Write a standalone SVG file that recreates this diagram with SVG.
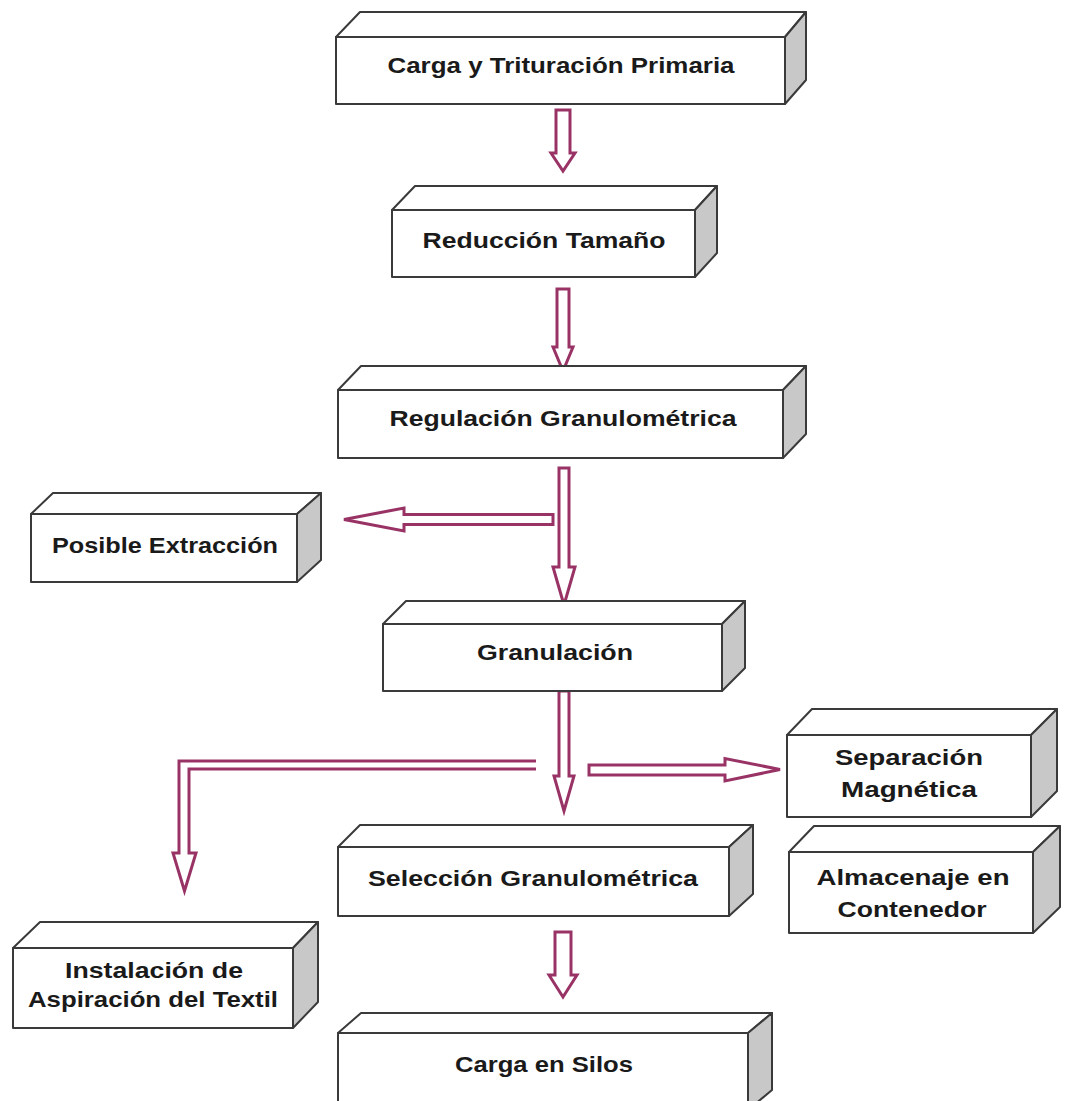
<svg xmlns="http://www.w3.org/2000/svg" width="1065" height="1101" viewBox="0 0 1065 1101">
<style>
.f{fill:#fff;stroke:#3a3a3a;stroke-width:2;stroke-linejoin:round}
.s{fill:#c8c8c8;stroke:#3a3a3a;stroke-width:2;stroke-linejoin:round}
.t{font-family:"Liberation Sans",Arial,sans-serif;font-weight:bold;font-size:22px;fill:#1a1a1a;text-anchor:middle}
.a{fill:#fff;stroke:#993366;stroke-width:3;stroke-linejoin:miter}
.l{fill:none;stroke:#993366;stroke-width:3}
</style>
<rect width="1065" height="1101" fill="#fff"/>
<g id="connectors">
<path class="a" d="M556,110 H570 V153 H575 L563,171 L551,153 H556 Z"/>
<path class="a" d="M557,289 H569 V347 H573 L563,371 L553,347 H557 Z"/>
<path class="a" d="M553,514.5 V524.5 H404 V531 L344,519.5 L404,508 V514.5 Z"/>
<path class="a" d="M559,468 H569 V567 H575 L564,605 L553,567 H559 Z"/>
<path class="a" d="M559,691 H569 V776 H574 L564,811 L554,776 H559 Z"/>
<path class="l" d="M536,761 H179 V853 H173 L184.5,891 L196,853 H189 V769 H536"/>
<path class="a" d="M589,765 H725 V758.5 L780,769.5 L725,781 V775 H589 Z"/>
<path class="a" d="M555,932 H571 V975 H577 L563,997 L549,975 H555 Z"/>
</g>
<g id="n1">
<polygon class="f" points="336,37 360,12 806,12 785,37"/>
<polygon class="s" points="785,37 806,12 806,80 785,104"/>
<rect class="f" x="336" y="37" width="449" height="67"/>
<text class="t" x="561" y="73" textLength="347" lengthAdjust="spacingAndGlyphs">Carga y Trituración Primaria</text>
</g>
<g id="n2">
<polygon class="f" points="392,210 415,186 717,186 695,210"/>
<polygon class="s" points="695,210 717,186 717,253 695,277"/>
<rect class="f" x="392" y="210" width="303" height="67"/>
<text class="t" x="544" y="248" textLength="243" lengthAdjust="spacingAndGlyphs">Reducción Tamaño</text>
</g>
<g id="n3">
<polygon class="f" points="338,390 361,366 806,366 783,390"/>
<polygon class="s" points="783,390 806,366 806,434 783,458"/>
<rect class="f" x="338" y="390" width="445" height="68"/>
<text class="t" x="563" y="426" textLength="347" lengthAdjust="spacingAndGlyphs">Regulación Granulométrica</text>
</g>
<g id="n4">
<polygon class="f" points="31,514 53,493 321,493 297,514"/>
<polygon class="s" points="297,514 321,493 321,560 297,582"/>
<rect class="f" x="31" y="514" width="266" height="68"/>
<text class="t" x="165" y="553" textLength="226" lengthAdjust="spacingAndGlyphs">Posible Extracción</text>
</g>
<g id="n5">
<polygon class="f" points="383,624 406,601 745,601 722,624"/>
<polygon class="s" points="722,624 745,601 745,668 722,691"/>
<rect class="f" x="383" y="624" width="339" height="67"/>
<text class="t" x="555" y="660" textLength="156" lengthAdjust="spacingAndGlyphs">Granulación</text>
</g>
<g id="n6">
<polygon class="f" points="787,735 812,709 1057,709 1031,735"/>
<polygon class="s" points="1031,735 1057,709 1057,791 1031,817"/>
<rect class="f" x="787" y="735" width="244" height="82"/>
<text class="t" x="909" y="765" textLength="148" lengthAdjust="spacingAndGlyphs">Separación</text>
<text class="t" x="909" y="797" textLength="136" lengthAdjust="spacingAndGlyphs">Magnética</text>
</g>
<g id="n7">
<polygon class="f" points="789,852 814,826 1060,826 1033,852"/>
<polygon class="s" points="1033,852 1060,826 1060,907 1033,933"/>
<rect class="f" x="789" y="852" width="244" height="81"/>
<text class="t" x="913" y="885" textLength="193" lengthAdjust="spacingAndGlyphs">Almacenaje en</text>
<text class="t" x="912" y="917" textLength="149" lengthAdjust="spacingAndGlyphs">Contenedor</text>
</g>
<g id="n8">
<polygon class="f" points="338,847 360,825 753,825 729,847"/>
<polygon class="s" points="729,847 753,825 753,894 729,916"/>
<rect class="f" x="338" y="847" width="391" height="69"/>
<text class="t" x="533" y="886" textLength="330" lengthAdjust="spacingAndGlyphs">Selección Granulométrica</text>
</g>
<g id="n9">
<polygon class="f" points="13,948 40,922 318,922 293,948"/>
<polygon class="s" points="293,948 318,922 318,1002 293,1028"/>
<rect class="f" x="13" y="948" width="280" height="80"/>
<text class="t" x="154" y="978" textLength="178" lengthAdjust="spacingAndGlyphs">Instalación de</text>
<text class="t" x="153" y="1007" textLength="250" lengthAdjust="spacingAndGlyphs">Aspiración del Textil</text>
</g>
<g id="n10">
<polygon class="f" points="338,1033 361,1013 772,1013 748,1033"/>
<polygon class="s" points="748,1033 772,1013 772,1090 748,1110"/>
<rect class="f" x="338" y="1033" width="410" height="80"/>
<text class="t" x="544" y="1072" textLength="178" lengthAdjust="spacingAndGlyphs">Carga en Silos</text>
</g>
</svg>
